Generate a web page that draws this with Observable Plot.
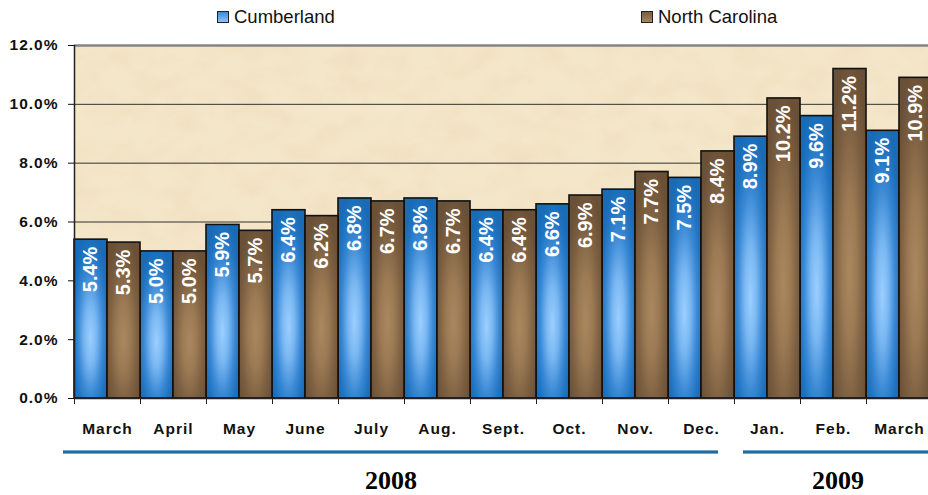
<!DOCTYPE html>
<html>
<head>
<meta charset="utf-8">
<script src="https://cdn.jsdelivr.net/npm/d3@7"></script>
<script src="https://cdn.jsdelivr.net/npm/@observablehq/plot@0.6"></script>
<style>
  html, body { margin: 0; padding: 0; background: #fff; overflow: hidden; }
  #wrap { width: 928px; height: 495px; overflow: hidden; position: relative; }
  #legend { position: relative; height: 32px; font-family: "Liberation Sans", Arial, sans-serif; font-size: 18.5px; color: #111; }
  .item { position: absolute; top: 7.6px; line-height: 1; white-space: nowrap; }
  .sw { position: absolute; top: 3.4px; width: 10px; height: 10px; border: 1.5px solid #222; }
  .chart g[aria-label="y-axis tick label"] text { letter-spacing: 1px; }
  .chart g[aria-label="x-axis tick label"] text { letter-spacing: 1px; }
</style>
</head>
<body>
<div id="wrap">
  <div id="legend">
    <div class="item" style="left:217px"><span class="sw" style="left:0;background:linear-gradient(#3d88d6,#8cc4fa)"></span><span style="margin-left:17px">Cumberland</span></div>
    <div class="item" style="left:641px"><span class="sw" style="left:0;background:linear-gradient(#7a5d3e,#a88660)"></span><span style="margin-left:17px">North Carolina</span></div>
  </div>
  <div id="chart"></div>
</div>
<script>
// ---- data ----
const months = ["March","April","May","June","July","Aug.","Sept.","Oct.","Nov.","Dec.","Jan.","Feb.","March"];
const cumberland =    [5.4, 5.0, 5.9, 6.4, 6.8, 6.8, 6.4, 6.6, 7.1, 7.5, 8.9, 9.6, 9.1];
const northCarolina = [5.3, 5.0, 5.7, 6.2, 6.7, 6.7, 6.4, 6.9, 7.7, 8.4, 10.2, 11.2, 10.9];
const seriesNames = ["Cumberland", "North Carolina"];
const yTicks = [0, 2, 4, 6, 8, 10, 12];
const yearLabels = ["2008", "2009"];
const yearFirstMonth = [0, 10];   // index of first month in each year
const yearMonthCount = [10, 3];   // number of months in each year

// ---- derived tables ----
const rows = months.flatMap((m, i) => [
  {i, month: m, series: seriesNames[0], slot: 0, value: cumberland[i]},
  {i, month: m, series: seriesNames[1], slot: 1, value: northCarolina[i]}
]);
const years = yearLabels.map((y, k) => ({year: y, start: yearFirstMonth[k], end: yearFirstMonth[k] + yearMonthCount[k]}));

// styles (pixel insets of year underline)
const yearStyle = {"2008": {left: -11, right: 16}, "2009": {left: 9, right: 0}};
const fills = {"Cumberland": "url(#gCumb)", "North Carolina": "url(#gNC)"};
const font = "Liberation Sans, Arial, sans-serif";

const barMarks = seriesNames.map(s => Plot.rectY(rows.filter(d => d.series === s), {
  x1: d => d.i + d.slot / 2,
  x2: d => d.i + (d.slot + 1) / 2,
  y: "value",
  fill: fills[s],
  stroke: "#111",
  strokeWidth: 1.6
}));

const yearMarks = years.flatMap(d => [
  Plot.rect([d], {
    x1: "start", x2: "end", y1: 0, y2: 0,
    dy: 54, insetTop: -1.6, insetBottom: -1.6,
    insetLeft: yearStyle[d.year].left, insetRight: yearStyle[d.year].right,
    fill: "#1f6c9e"
  }),
  Plot.text([d], {
    x: e => (e.start + e.end) / 2, y: 0, text: "year",
    dy: 82, dx: (yearStyle[d.year].left - yearStyle[d.year].right) / 2,
    fontFamily: "Liberation Serif, Times New Roman, serif", fontWeight: "bold", fontSize: 26, fill: "#000"
  })
]);

const chart = Plot.plot({
  width: 932,
  height: 463,
  marginLeft: 74,
  marginRight: 0,
  marginTop: 13,
  marginBottom: 97,
  className: "chart",
  style: {fontFamily: font, maxWidth: "none", background: "transparent", overflow: "visible"},
  x: {domain: [0, months.length], axis: null},
  y: {domain: [0, 12], axis: null},
  marks: [
    Plot.frame({fill: "#f4e6c9"}),
    Plot.gridY({ticks: yTicks.filter(t => t > 0 && t < 12), stroke: "#333", strokeOpacity: 1, strokeWidth: 1}),
    Plot.ruleY([12], {stroke: "#858585", strokeWidth: 2.6}),
    ...barMarks,
    Plot.text(rows, {
      x: d => d.i + d.slot / 2 + 0.25,
      y: "value",
      text: d => d.value.toFixed(1) + "%",
      rotate: -90,
      textAnchor: "end",
      lineAnchor: "middle",
      dy: 7,
      fill: "#fff",
      fontSize: 20,
      fontWeight: "bold",
      fontFamily: font
    }),
    Plot.ruleX([0], {stroke: "#222", strokeWidth: 1.5}),
    Plot.ruleY([0], {stroke: "#222", strokeWidth: 1.5}),
    Plot.axisY({
      ticks: yTicks, tickFormat: d => d.toFixed(1) + "%",
      tickSize: 6, tickPadding: 10, fontSize: 15.5, fontWeight: "bold", color: "#111", label: null
    }),
    Plot.axisX({
      ticks: d3.range(months.length + 1), tickFormat: () => "",
      tickSize: 6, color: "#222", label: null
    }),
    Plot.axisX({
      ticks: months.map((m, i) => i + 0.5), tickFormat: d => months[Math.floor(d)],
      tickSize: 0, tickPadding: 24, fontSize: 15.5, fontWeight: "bold", color: "#111", label: null
    }),
    ...yearMarks
  ]
});

// gradient + texture definitions
const defs = d3.select(chart).insert("defs", ":first-child");
function radial(id, stops) {
  const g = defs.append("radialGradient").attr("id", id)
    .attr("cx", 0.5).attr("cy", 0.58).attr("r", 0.62).attr("fx", 0.5).attr("fy", 0.62);
  stops.forEach(([o, c]) => g.append("stop").attr("offset", o).attr("stop-color", c));
}
radial("gCumb", [[0, "#9ccfff"], [0.3, "#79b7f2"], [0.62, "#3a88d4"], [0.85, "#1f73c0"], [1, "#1a6bb6"]]);
radial("gNC", [[0, "#aa885f"], [0.35, "#9b7a54"], [0.7, "#7d6042"], [1, "#6a5036"]]);

const f = defs.append("filter").attr("id", "parch")
  .attr("x", 0).attr("y", 0).attr("width", 1).attr("height", 1);
f.append("feTurbulence").attr("type", "fractalNoise").attr("baseFrequency", "0.03 0.045")
  .attr("numOctaves", 3).attr("seed", 7).attr("result", "n");
f.append("feColorMatrix").attr("in", "n").attr("type", "matrix")
  .attr("values", "0 0 0 0 0.86  0 0 0 0 0.72  0 0 0 0 0.5  1.3 0 0 0 -0.5").attr("result", "c");
f.append("feComposite").attr("in", "c").attr("in2", "SourceGraphic").attr("operator", "in").attr("result", "t");
const m = f.append("feMerge");
m.append("feMergeNode").attr("in", "SourceGraphic");
m.append("feMergeNode").attr("in", "t");
d3.select(chart).select('[aria-label="frame"]').attr("filter", "url(#parch)");

document.getElementById("chart").appendChild(chart);
</script>
</body>
</html>
